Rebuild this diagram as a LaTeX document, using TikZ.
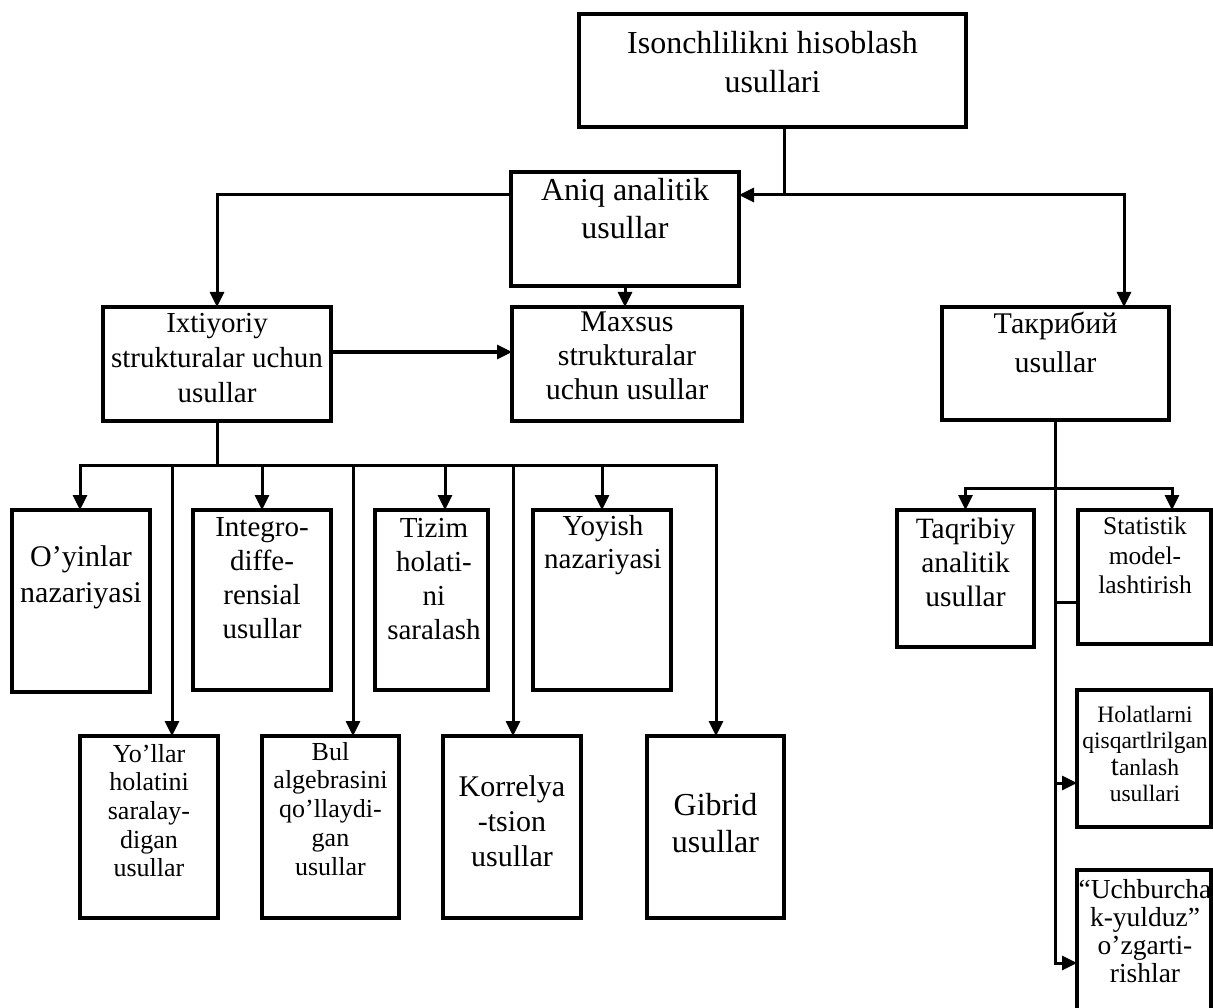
\documentclass[tikz,border=0pt]{standalone}
\usepackage{fontspec}
\setmainfont{Liberation Serif}
\usetikzlibrary{arrows.meta}
\newcommand{\fsz}[2]{\fontsize{#1}{#2}\selectfont}
\begin{document}
\begin{tikzpicture}[x=1pt,y=-1pt,
  box/.style={draw, line width=3.5pt, inner sep=0pt, outer sep=0pt},
  txt/.style={align=center, inner sep=0pt, outer sep=0pt, anchor=north},
  con/.style={line width=3pt, line cap=rect},
  arr/.style={line width=3pt, -{Triangle[length=15pt,width=14pt]}}]
\useasboundingbox (0,0) rectangle (1213,1008);
\clip (0,0) rectangle (1213,1008);
\fill[white] (0,0) rectangle (1213,1008);

% boxes
\node[box, minimum width=387pt, minimum height=113pt] (top) at (772.5,70.5) {};
\node[box, minimum width=228pt, minimum height=114pt] (aniq) at (625,229) {};
\node[box, minimum width=228pt, minimum height=114pt] (ixt) at (217,364) {};
\node[box, minimum width=230pt, minimum height=114pt] (maxs) at (627,364) {};
\node[box, minimum width=227pt, minimum height=113pt] (takr) at (1055.5,363.5) {};
\node[box, minimum width=138pt, minimum height=182pt] (oyin) at (81,601) {};
\node[box, minimum width=138pt, minimum height=180pt] (integ) at (262,600) {};
\node[box, minimum width=113pt, minimum height=180pt] (tizim) at (431.5,600) {};
\node[box, minimum width=138pt, minimum height=180pt] (yoyish) at (602,600) {};
\node[box, minimum width=138pt, minimum height=182pt] (yollar) at (149,827) {};
\node[box, minimum width=137pt, minimum height=182pt] (bul) at (330.5,827) {};
\node[box, minimum width=138pt, minimum height=182pt] (korr) at (512,827) {};
\node[box, minimum width=137pt, minimum height=182pt] (gibrid) at (715.5,827) {};
\node[box, minimum width=137pt, minimum height=137pt] (taqrib) at (965.5,578.5) {};
\node[box, minimum width=133pt, minimum height=134pt] (statis) at (1144.5,577) {};
\node[box, minimum width=134pt, minimum height=137pt] (holat) at (1144,758.5) {};
\node[box, minimum width=134pt, minimum height=160pt] (uchb) at (1144,950) {};

% texts
\node[txt, font={\fsz{32}{39}}] (top-t) at (772.5,31) {Isonchlilikni hisoblash\\usullari};
\node[txt, font={\fsz{32}{38}}] (aniq-t) at (625,178) {Aniq analitik\\usullar};
\node[txt, font={\fsz{29}{35}}] (ixt-t) at (217,313) {Ixtiyoriy\\strukturalar uchun\\usullar};
\node[txt, font={\fsz{30}{34}}] (maxs-t) at (627,312) {Maxsus\\strukturalar\\uchun usullar};
\node[txt, font={\fsz{30}{39}}] (takr-t) at (1055.5,312) {Такрибий\\usullar};
\node[txt, font={\fsz{30}{36}}] (oyin-t) at (81,546) {O’yinlar\\nazariyasi};
\node[txt, font={\fsz{29}{34}}] (integ-t) at (262,518) {Integro-\\diffe-\\rensial\\usullar};
\node[txt, font={\fsz{29}{34}}] (tizim-t) at (434,518) {Tizim\\holati-\\ni\\saralash};
\node[txt, font={\fsz{29}{33}}] (yoyish-t) at (603,515) {Yoyish\\nazariyasi};
\node[txt, font={\fsz{26}{28.7}}] (yollar-t) at (149,744) {Yo’llar\\holatini\\saralay-\\digan\\usullar};
\node[txt, font={\fsz{26}{28.8}}] (bul-t) at (330.5,742) {Bul\\algebrasini\\qo’llaydi-\\gan\\usullar};
\node[txt, font={\fsz{30}{35}}] (korr-t) at (512,776) {Korrelya\\-tsion\\usullar};
\node[txt, font={\fsz{32}{37}}] (gibrid-t) at (715.5,793) {Gibrid\\usullar};
\node[txt, font={\fsz{29.5}{34}}] (taqrib-t) at (965.5,518) {Taqribiy\\analitik\\usullar};
\node[txt, font={\fsz{25.5}{29.5}}] (statis-t) at (1145,517) {Statistik\\model-\\lashtirish};
\node[txt, font={\fsz{23.5}{26.5}}] (holat-t) at (1145,706) {Holatlarni\\qisqartlrilgan\\{\fsz{29}{26.5}t}anlash\\usullari};
\node[txt, font={\fsz{27.5}{28}}] (uchb-t) at (1145,879) {“Uchburcha\\k-yulduz”\\o’zgarti-\\rishlar};

% helper coordinates
\coordinate (j1) at (784,195);
\coordinate (tkx) at (1124,0);
\coordinate (h1) at (0,352);
\coordinate (b1) at (80,465);
\coordinate (b2) at (172,465);
\coordinate (b3) at (262,465);
\coordinate (b4) at (353,465);
\coordinate (b5) at (445,465);
\coordinate (b6) at (513,465);
\coordinate (b7) at (602,465);
\coordinate (b8) at (716,465);
\coordinate (br) at (0,488);
\coordinate (sx) at (1172,0);
\coordinate (sa) at (0,602);
\coordinate (ha) at (0,783);
\coordinate (ua) at (0,963);

% top level connectors
\draw[line width=3pt] (top.south -| j1) -- (j1);
\draw[arr] (j1) -- (aniq.east |- j1);
\draw[arr] (j1) -| (takr.north -| tkx);
\draw[arr] (aniq.west |- j1) -| (ixt.north);
\draw[arr] (aniq.south) -- (aniq.south |- maxs.north);
\draw[arr] (ixt.east |- h1) -- (maxs.west |- h1);

% bus
\draw[line width=3pt] (ixt.south) -- (ixt.south |- b1);
\draw[con] (b1) -- (b8);
\draw[arr] (b1) -- (b1 |- oyin.north);
\draw[arr] (b2) -- (b2 |- yollar.north);
\draw[arr] (b3) -- (b3 |- integ.north);
\draw[arr] (b4) -- (b4 |- bul.north);
\draw[arr] (b5) -- (b5 |- tizim.north);
\draw[arr] (b6) -- (b6 |- korr.north);
\draw[arr] (b7) -- (b7 |- yoyish.north);
\draw[arr] (b8) -- (b8 |- gibrid.north);

% right column
\draw[arr] (takr.south) |- (uchb.west |- ua);
\draw[arr] (takr.south |- ha) -- (holat.west |- ha);
\draw[line width=3pt] (takr.south |- sa) -- (statis.west |- sa);
\draw[arr] (takr.south |- br) -| (taqrib.north);
\draw[arr] (takr.south |- br) -| (statis.north -| sx);
\end{tikzpicture}
\end{document}
